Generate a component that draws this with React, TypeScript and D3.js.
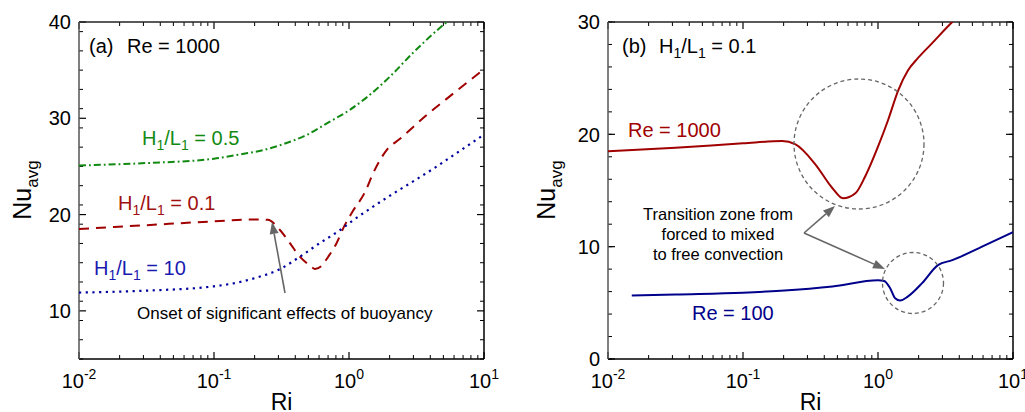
import React from 'react';
import * as d3 from 'd3';

const FONT = '"Liberation Sans", Arial, Helvetica, sans-serif';

// x axis (shared): Ri, log scale
const riDomain: [number, number] = [0.01, 10];
const riMajor = [0.01, 0.1, 1, 10];
const riExponent = ['-2', '-1', '0', '1'];

// panel (a): Re = 1000, Nu_avg vs Ri for three aspect ratios
const aYDomain: [number, number] = [5, 40];
const aYTicks = [10, 20, 30, 40];
const aGreen: [number, number][] = [
  [0.01, 25.1], [0.0316, 25.35], [0.1, 25.8], [0.156, 26.25], [0.24, 26.75], [0.324, 27.3],
  [0.49, 28.3], [0.69, 29.5], [1.02, 30.9], [1.36, 32.2], [2.0, 34.3], [2.98, 36.8],
  [4.72, 39.4], [6.0, 40.6],
];
const aRed: [number, number][] = [
  [0.01, 18.5], [0.0316, 18.9], [0.1, 19.3], [0.2, 19.5], [0.25, 19.45], [0.308, 18.4],
  [0.366, 17.0], [0.434, 15.6], [0.514, 14.7], [0.56, 14.35], [0.63, 14.7], [0.7, 15.6],
  [0.8, 16.9], [0.93, 18.9], [1.05, 20.2], [1.32, 22.4], [1.51, 24.3], [1.9, 26.7],
  [2.4, 27.9], [3.8, 30.4], [5.6, 32.3], [10, 35.1],
];
const aBlue: [number, number][] = [
  [0.01, 11.9], [0.0316, 12.1], [0.1, 12.55], [0.156, 13.0], [0.2, 13.4], [0.31, 14.35],
  [0.43, 15.6], [0.61, 17.05], [0.86, 18.4], [1.07, 19.4], [1.5, 20.8], [2.14, 22.2],
  [2.95, 23.4], [4.47, 25.0], [6.3, 26.4], [10, 28.3],
];

// panel (b): H1/L1 = 0.1, two Reynolds numbers
const bYDomain: [number, number] = [0, 30];
const bYTicks = [0, 10, 20, 30];
const bRe1000: [number, number][] = [
  [0.01, 18.5], [0.0316, 18.8], [0.1, 19.2], [0.195, 19.4], [0.245, 19.1], [0.34, 17.4],
  [0.46, 15.2], [0.55, 14.3], [0.68, 14.75], [0.8, 16.2], [1.0, 18.9], [1.19, 21.3],
  [1.41, 23.9], [1.67, 25.7], [1.98, 26.8], [2.51, 28.1], [3.55, 30.0], [4.2, 30.8],
];
const bRe100: [number, number][] = [
  [0.015, 5.65], [0.0316, 5.75], [0.1, 5.9], [0.19, 6.07], [0.46, 6.45], [1.0, 7.0],
  [1.11, 6.95], [1.23, 6.3], [1.34, 5.4], [1.46, 5.2], [1.66, 5.55], [2.12, 6.75],
  [2.78, 8.36], [3.55, 8.8], [5.9, 10.0], [10, 11.3],
];

const GREEN = '#128a12';
const RED = '#a00000';
const BLUE = '#0000a0';
const NAVY = '#00008b';
const GRAY = '#666';

type Box = { left: number; right: number; top: number; bottom: number };

function Axes({ box, x, y, yTicks, yMinor, id }: any) {
  const minorX: number[] = [];
  for (let d = -2; d < 1; d++) for (let k = 2; k <= 9; k++) minorX.push(k * Math.pow(10, d));
  const [y0, y1] = y.domain();
  const minorY = d3.range(y0, y1 + 0.001, yMinor);
  const { left, right, top, bottom } = box;
  return (
    <g>
      <defs>
        <clipPath id={id}>
          <rect x={left} y={top} width={right - left} height={bottom - top} />
        </clipPath>
      </defs>
      {minorX.map((v, i) => (
        <g key={'mx' + i} stroke="#000" strokeWidth={1}>
          <line x1={x(v)} x2={x(v)} y1={bottom} y2={bottom - 4} />
          <line x1={x(v)} x2={x(v)} y1={top} y2={top + 4} />
        </g>
      ))}
      {riMajor.map((v, i) => (
        <g key={'Mx' + i}>
          <line x1={x(v)} x2={x(v)} y1={bottom} y2={bottom - 7} stroke="#000" strokeWidth={1.2} />
          <line x1={x(v)} x2={x(v)} y1={top} y2={top + 7} stroke="#000" strokeWidth={1.2} />
          <text x={x(v)} y={388} textAnchor="middle" fontSize={20} fontFamily={FONT}>
            10<tspan fontSize={14} dy={-9}>{riExponent[i]}</tspan>
          </text>
        </g>
      ))}
      {minorY.map((v: number, i: number) => (
        <g key={'my' + i} stroke="#000" strokeWidth={1}>
          <line x1={left} x2={left + 4} y1={y(v)} y2={y(v)} />
          <line x1={right} x2={right - 4} y1={y(v)} y2={y(v)} />
        </g>
      ))}
      {yTicks.map((v: number) => (
        <g key={'My' + v}>
          <line x1={left} x2={left + 7} y1={y(v)} y2={y(v)} stroke="#000" strokeWidth={1.2} />
          <line x1={right} x2={right - 7} y1={y(v)} y2={y(v)} stroke="#000" strokeWidth={1.2} />
          <text x={left - 8} y={y(v)} dy="0.36em" textAnchor="end" fontSize={20} fontFamily={FONT}>
            {v}
          </text>
        </g>
      ))}
      <line x1={left} x2={right} y1={top} y2={top} stroke="#222" strokeWidth={1.5} />
      <line x1={right} x2={right} y1={top} y2={bottom} stroke="#000" strokeWidth={1.5} />
      <line x1={left} x2={right} y1={bottom} y2={bottom} stroke="#000" strokeWidth={1.5} />
      <line x1={left} x2={left} y1={top} y2={bottom} stroke="#555" strokeWidth={1.5} />
      <text x={(left + right) / 2} y={410} textAnchor="middle" fontSize={23} fontFamily={FONT}>
        Ri
      </text>
    </g>
  );
}

function Arrow({ x1, y1, x2, y2 }: { x1: number; y1: number; x2: number; y2: number }) {
  const a = Math.atan2(y2 - y1, x2 - x1);
  const len = 12, half = 4.5;
  const bx = x2 - len * Math.cos(a), by = y2 - len * Math.sin(a);
  const px = -Math.sin(a) * half, py = Math.cos(a) * half;
  return (
    <g>
      <line x1={x1} y1={y1} x2={bx} y2={by} stroke={GRAY} strokeWidth={1.6} />
      <polygon points={`${x2},${y2} ${bx + px},${by + py} ${bx - px},${by - py}`} fill={GRAY} />
    </g>
  );
}

function HL({ x, y, value, color }: { x: number; y: number; value: string; color: string }) {
  return (
    <text x={x} y={y} fontSize={20} fill={color} fontFamily={FONT}>
      H<tspan fontSize={14} dy={5}>1</tspan>
      <tspan dy={-5}>/L</tspan>
      <tspan fontSize={14} dy={5}>1</tspan>
      <tspan dy={-5}>{' = ' + value}</tspan>
    </text>
  );
}

function NuLabel({ x, y }: { x: number; y: number }) {
  return (
    <text transform={`translate(${x},${y}) rotate(-90)`} textAnchor="middle" fontSize={25} fontFamily={FONT}>
      Nu<tspan fontSize={17} dy={7}>avg</tspan>
    </text>
  );
}

export default function App() {
  const boxA: Box = { left: 79, right: 484, top: 22, bottom: 359 };
  const boxB: Box = { left: 608, right: 1013, top: 22, bottom: 359 };

  const xA = d3.scaleLog().domain(riDomain).range([boxA.left, boxA.right]);
  const yA = d3.scaleLinear().domain(aYDomain).range([boxA.bottom, boxA.top]);
  const xB = d3.scaleLog().domain(riDomain).range([boxB.left, boxB.right]);
  const yB = d3.scaleLinear().domain(bYDomain).range([boxB.bottom, boxB.top]);

  const lineA = d3.line<[number, number]>().x(d => xA(d[0])).y(d => yA(d[1])).curve(d3.curveMonotoneX);
  const lineB = d3.line<[number, number]>().x(d => xB(d[0])).y(d => yB(d[1])).curve(d3.curveMonotoneX);

  return (
    <svg width={1025} height={412} style={{ position: 'absolute', left: 0, top: 0, background: '#fff' }}>
      {/* panel (a) */}
      <Axes box={boxA} x={xA} y={yA} yTicks={aYTicks} yMinor={2} id="clipA" />
      <NuLabel x={31} y={190} />
      <g clipPath="url(#clipA)" fill="none" strokeWidth={2}>
        <path d={lineA(aGreen) || ''} stroke={GREEN} strokeDasharray="7,3,1.8,3" />
        <path d={lineA(aRed) || ''} stroke={RED} strokeDasharray="10,7" />
        <path d={lineA(aBlue) || ''} stroke={BLUE} strokeDasharray="2.2,4.5" strokeWidth={2.2} />
      </g>
      <text x={89} y={53} fontSize={20} fontFamily={FONT}>(a)</text>
      <text x={127} y={53} fontSize={20} fontFamily={FONT}>Re = 1000</text>
      <HL x={142} y={145} value="0.5" color={GREEN} />
      <HL x={118} y={210} value="0.1" color="#a01010" />
      <HL x={94} y={275} value="10" color="#1a1ab0" />
      <Arrow x1={285} y1={293} x2={272} y2={222} />
      <text x={137} y={319} fontSize={17} fontFamily={FONT}>
        Onset of significant effects of buoyancy
      </text>

      {/* panel (b) */}
      <Axes box={boxB} x={xB} y={yB} yTicks={bYTicks} yMinor={2} id="clipB" />
      <NuLabel x={555} y={190} />
      <g clipPath="url(#clipB)" fill="none" strokeWidth={2}>
        <path d={lineB(bRe1000) || ''} stroke={RED} />
        <path d={lineB(bRe100) || ''} stroke={NAVY} />
      </g>
      <text x={622} y={53} fontSize={20} fontFamily={FONT}>(b)</text>
      <HL x={659} y={53} value="0.1" color="#000" />
      <text x={628} y={137} fontSize={20} fill={RED} fontFamily={FONT}>Re = 1000</text>
      <text x={692} y={320} fontSize={20} fill={NAVY} fontFamily={FONT}>Re = 100</text>
      <g fill="none" stroke={GRAY} strokeWidth={1.3} strokeDasharray="4,3">
        <circle cx={859} cy={144} r={65} />
        <circle cx={913} cy={283} r={30.5} />
      </g>
      <Arrow x1={804} y1={233} x2={835} y2={206} />
      <Arrow x1={804} y1={233} x2={885} y2={269} />
      <g fontSize={16.5} fontFamily={FONT} textAnchor="middle">
        <text x={718} y={220}>Transition zone from</text>
        <text x={718} y={240}>forced to mixed</text>
        <text x={718} y={260}>to free convection</text>
      </g>
    </svg>
  );
}
